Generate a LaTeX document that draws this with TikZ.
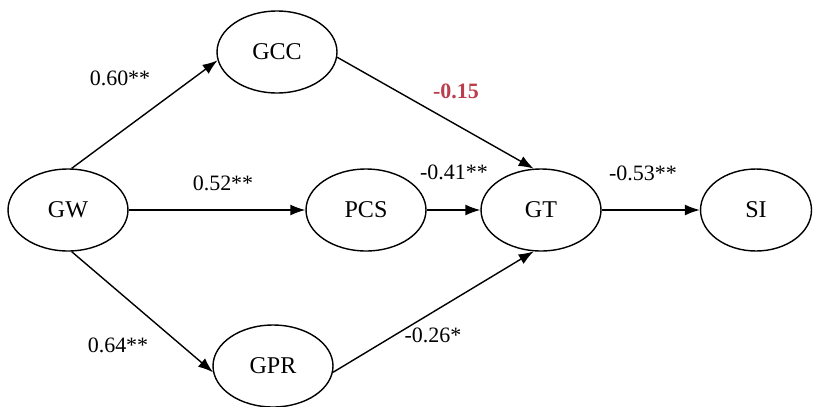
\documentclass[tikz,border=0pt]{standalone}
\usepackage{fontspec}
\setmainfont{Liberation Serif}
\usepackage{tikz}
\usetikzlibrary{shapes.geometric,arrows.meta}
\definecolor{coefred}{RGB}{186,62,78}

\tikzset{
  var/.style={draw,ellipse,line width=0.8pt,inner sep=0pt,
    minimum width=2.4cm,minimum height=1.64cm,
    font=\fontsize{13.7}{16}\selectfont},
  coef/.style={inner sep=0pt,font=\fontsize{12.5}{15}\selectfont},
  path/.style={line width=0.8pt,-{Latex[length=3mm,width=2.2mm]}}
}

\begin{document}
\begin{tikzpicture}[x=0.02cm,y=-0.02cm]
  \useasboundingbox (0,0) rectangle (813,406);

  \node[var] (GW) at (68,210) {GW};
  
  \node[var] (GCC) at (277,52) {GCC};
  \node[var] (PCS) at (366,210) {PCS};
  \node[var] (GPR) at (273,366) {GPR};
  
  \node[var] (GT) at (541,210) {GT};
  
  \node[var,minimum width=2.22cm] (SI) at (756,210) {SI};

  \node[coef] (c60) at (120,78) {0.60**};
  \node[coef] (c52) at (223,183) {0.52**};
  \node[coef] (c64) at (118,345) {0.64**};
  \node[coef,text=coefred,font=\fontsize{12.5}{15}\selectfont\bfseries] (c15) at (456,91) {-0.15};
  \node[coef] (c41) at (454,172) {-0.41**};
  \node[coef] (c26) at (433,335) {-0.26*};
  \node[coef] (c53) at (643,173) {-0.53**};

  \draw[path] (GW.85) -- (GCC.188);
  \draw[path] (GW.east) -- (PCS.west);
  \draw[path] (GW.275) -- (GPR.186);
  
  \draw[path] (GCC.355) -- (GT.100);
  \draw[path] (PCS.east) -- (GT.west);
  \draw[path] (GPR.354) -- (GT.260);
  
  \draw[path] (GT.east) -- (SI.west);
\end{tikzpicture}
\end{document}
